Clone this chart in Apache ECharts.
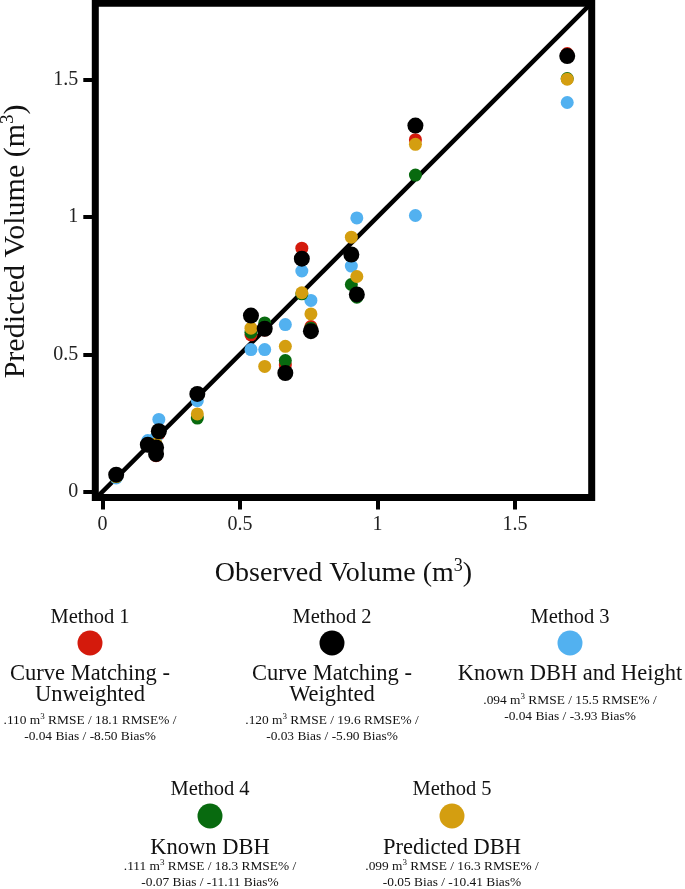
<!DOCTYPE html>
<html><head><meta charset="utf-8">
<script src="https://cdn.jsdelivr.net/npm/echarts@6/dist/echarts.min.js"></script>
<style>html,body{margin:0;padding:0;background:#fff}#c{width:685px;height:889px}</style>
</head><body><div id="c"></div>
<script>
// Observed volume (m3) per tree
const observed = [0.05, 0.165, 0.195, 0.195, 0.205, 0.345, 0.54, 0.59, 0.665, 0.725, 0.758, 0.905, 0.925, 1.138, 1.69];
// Predicted volume per method
const method1 = [0.055, 0.17, 0.155, 0.131, 0.21, 0.35, 0.571, 0.588, 0.461, 0.886, 0.601, 0.862, 0.715, 1.281, 1.594];
const method2 = [0.062, 0.171, 0.161, 0.137, 0.22, 0.356, 0.641, 0.593, 0.432, 0.848, 0.584, 0.863, 0.718, 1.332, 1.585];
const method3 = [0.05, 0.186, 0.17, 0.198, 0.263, 0.331, 0.517, 0.517, 0.608, 0.803, 0.696, 0.821, 0.996, 1.005, 1.416];
const method4 = [0.055, 0.17, 0.16, 0.14, 0.22, 0.268, 0.58, 0.614, 0.477, 0.72, 0.595, 0.754, 0.708, 1.152, 1.503];
const method5 = [0.055, 0.17, 0.174, 0.15, 0.215, 0.283, 0.595, 0.456, 0.529, 0.724, 0.647, 0.926, 0.783, 1.264, 1.501];
const oneToOne = [-0.1, 1.9];
const tickValues = [0, 0.5, 1, 1.5];

const methodNames = ['Method 1', 'Method 2', 'Method 3', 'Method 4', 'Method 5'];
const methodLabels = [['Curve Matching -', 'Unweighted'], ['Curve Matching -', 'Weighted'], ['Known DBH and Height'], ['Known DBH'], ['Predicted DBH']];
const statsLine1 = ['.110 m{s|3} RMSE / 18.1 RMSE% /', '.120 m{s|3} RMSE / 19.6 RMSE% /', '.094 m{s|3} RMSE / 15.5 RMSE% /', '.111 m{s|3} RMSE / 18.3 RMSE% /', '.099 m{s|3} RMSE / 16.3 RMSE% /'];
const statsLine2 = ['-0.04 Bias / -8.50 Bias%', '-0.03 Bias / -5.90 Bias%', '-0.04 Bias / -3.93 Bias%', '-0.07 Bias / -11.11 Bias%', '-0.05 Bias / -10.41 Bias%'];

const colors = ['#D41A0C', '#000000', '#52B1F0', '#086A0F', '#D49E10'];
const predicted = [method1, method2, method3, method4, method5];
const drawOrder = [0, 2, 3, 4, 1];

const FONT = '"Liberation Serif", "DejaVu Serif", serif';

// legend layout: [centerX, titleY, circleY, labelY, statsY]
const legendPos = [
  [90, 618, 643, 674, 720],
  [332, 618, 643, 674, 720],
  [570, 618, 643, 674, 700],
  [210, 790, 816, 848, 866],
  [452, 790, 816, 848, 866]
];

const series = [{
  type: 'line', name: '1:1', data: oneToOne.map(v => [v, v]), symbol: 'none', clip: true, z: 1,
  lineStyle: { color: '#000', width: 4.5 }, silent: true
}];
drawOrder.forEach(i => {
  series.push({
    type: 'scatter', name: methodNames[i], z: 2 + drawOrder.indexOf(i),
    symbolSize: i === 1 ? 16 : 13,
    itemStyle: { color: colors[i], opacity: 1 },
    data: observed.map((x, k) => [x, predicted[i][k]])
  });
});

const graphics = [];
const legends = [];
methodNames.forEach((name, i) => {
  const [cx, ty, cy, ly, sy] = legendPos[i];
  graphics.push({ type: 'text', style: { text: name, x: cx, y: ty, align: 'center', verticalAlign: 'middle', font: '20.5px ' + FONT, fill: '#111' } });
  methodLabels[i].forEach((t, j) => {
    graphics.push({ type: 'text', style: { text: t, x: cx, y: ly + j * 21, align: 'center', verticalAlign: 'middle', font: '22.5px ' + FONT, fill: '#111' } });
  });
  graphics.push({ type: 'text', style: { text: statsLine1[i], x: cx, y: sy, align: 'center', verticalAlign: 'middle', font: '13.4px ' + FONT, fill: '#111',
    rich: { s: { fontSize: 9, fontFamily: FONT, padding: [0, 0, 7, 0], fill: '#111' } } } });
  graphics.push({ type: 'text', style: { text: statsLine2[i], x: cx, y: sy + 16.5, align: 'center', verticalAlign: 'middle', font: '13.4px ' + FONT, fill: '#111' } });
  legends.push({
    data: [name], icon: 'circle', itemWidth: 25, itemHeight: 25, left: cx - 12.5, top: cy - 12.5,
    formatter: () => '', selectedMode: false, padding: 0, itemGap: 0,
    textStyle: { fontSize: 1 }
  });
});

const chart = echarts.init(document.getElementById('c'), null, { renderer: 'canvas' });
chart.setOption({
  backgroundColor: '#fff',
  animation: false,
  color: colors,
  grid: { left: 95.3, top: 3.3, right: 93.3, bottom: 391.5, show: true, borderColor: '#000', borderWidth: 7, containLabel: false, outerBoundsMode: 'none' },
  xAxis: {
    type: 'value', min: -0.026, max: 1.779, interval: 0.5,
    name: 'Observed Volume (m{s|3})', nameLocation: 'middle', nameGap: 60,
    nameTextStyle: { fontFamily: FONT, fontSize: 28, color: '#111', rich: { s: { fontSize: 18, fontFamily: FONT, padding: [0, 0, 15, 0], color: '#111' } } },
    axisLine: { show: false, onZero: false },
    axisTick: { show: true, length: 12, lineStyle: { color: '#000', width: 4 }, customValues: tickValues },
    axisLabel: { fontFamily: FONT, fontSize: 20, color: '#222', margin: 17, customValues: tickValues },
    splitLine: { show: false }
  },
  yAxis: {
    type: 'value', min: -0.021, max: 1.777, interval: 0.5,
    name: 'Predicted Volume (m{s|3})', nameLocation: 'middle', nameGap: 62,
    nameTextStyle: { fontFamily: FONT, fontSize: 30, color: '#111', padding: [0, 0, 0, 18], rich: { s: { fontSize: 19, fontFamily: FONT, padding: [0, 0, 16, 0], color: '#111' } } },
    axisLine: { show: false, onZero: false },
    axisTick: { show: true, length: 12, lineStyle: { color: '#000', width: 4 }, customValues: tickValues },
    axisLabel: { fontFamily: FONT, fontSize: 20, color: '#222', margin: 17, customValues: tickValues },
    splitLine: { show: false }
  },
  legend: legends,
  graphic: graphics,
  series: series
});
</script></body></html>
